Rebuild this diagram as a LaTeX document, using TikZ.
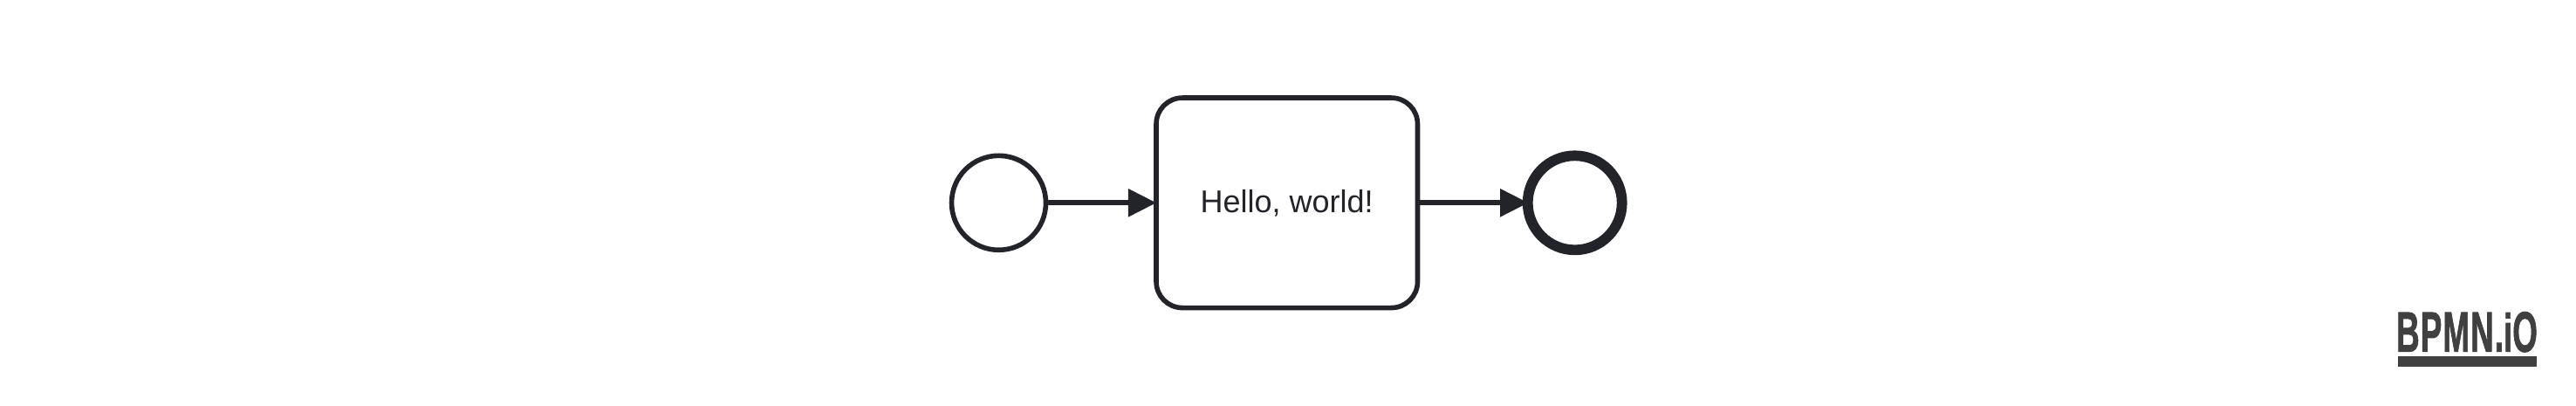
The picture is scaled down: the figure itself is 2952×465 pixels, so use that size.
\documentclass[tikz,border=0pt]{standalone}
\usepackage{fontspec}
\setmainfont{Liberation Sans}
\newfontfamily\logofont[FakeBold=1.6,LetterSpace=3]{Liberation Sans Bold}
\usepackage{graphicx}
\usetikzlibrary{arrows.meta}
\definecolor{ink}{HTML}{22242A}
\definecolor{logo}{HTML}{404040}
\tikzset{
  x=1pt,y=-1pt,
  event/.style={circle,draw=ink,fill=white,line width=5.6pt,minimum size=108pt,inner sep=0pt},
  endevent/.style={event,line width=11.8pt},
  task/.style={rectangle,draw=ink,fill=white,line width=5.6pt,rounded corners=30pt,
    minimum width=299.5pt,minimum height=240.5pt,inner sep=0pt,
    font=\fontsize{36pt}{40pt}\selectfont,text=ink,text height=22pt,text depth=0pt},
  flow/.style={draw=ink,line width=6pt,-{Triangle[length=32pt,width=32.6pt,line width=0pt]}},
  logotype/.style={anchor=north west,inner sep=0pt,text=logo},
  logorule/.style={anchor=north west,inner sep=0pt,fill=logo,minimum width=159pt,minimum height=12pt},
}
\begin{document}
\begin{tikzpicture}
\useasboundingbox (0,0) rectangle (2952,465);
\node[event] (start) at (1144.5,232.3) {};
\node[task] (hello) at (1474.75,232.3) {Hello, world!};
\node[endevent] (finish) at (1804.7,232.3) {};
\draw[flow,shorten >=-2.7pt] (start.east) -- (hello.west);
\draw[flow,shorten >=-6.3pt] (hello.east) -- (finish.west);
\node[logotype] (logotext) at (2745.9,357)
  {\resizebox{161.7pt}{45.5pt}{\logofont BPMN.\scalebox{1}[.944]{i}O}};
\node[logorule] (logobar) at (2748,408) {};
\end{tikzpicture}
\end{document}
